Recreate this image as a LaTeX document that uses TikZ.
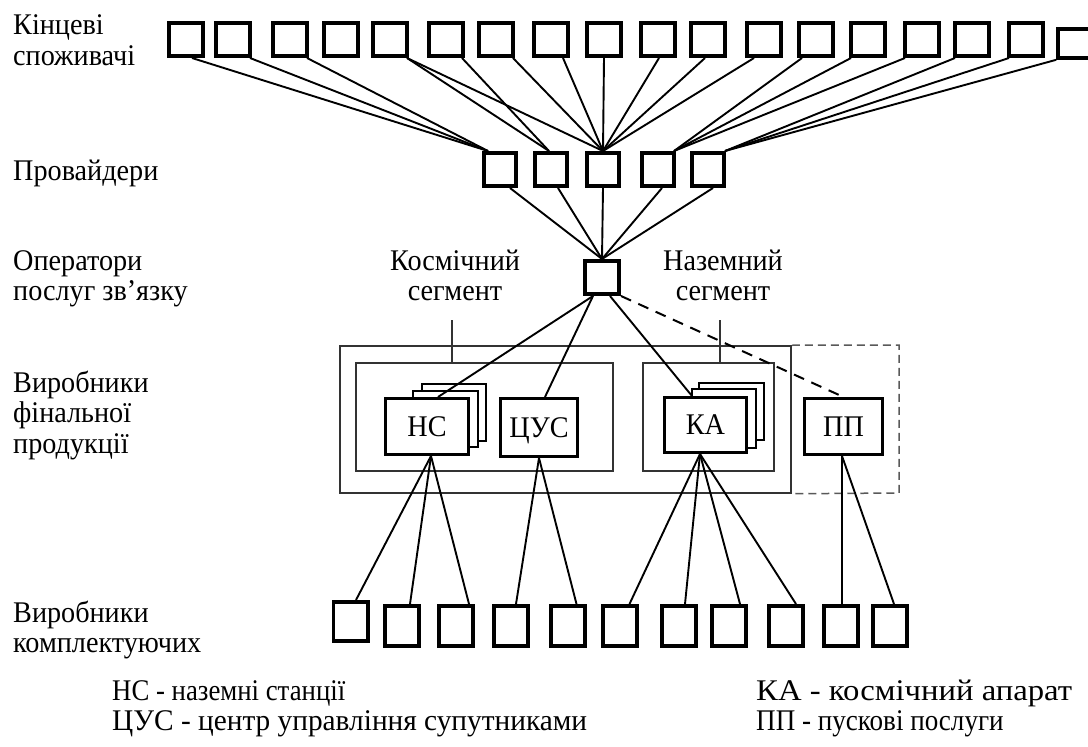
\documentclass[tikz,border=0pt]{standalone}
\usepackage{fontspec}
\usepackage{graphicx}
\setmainfont{Liberation Serif}[FakeStretch=0.94]
\usetikzlibrary{calc}
\newcommand\stackl[1]{\begin{tabular}[t]{@{}l@{}}#1\end{tabular}}
\newcommand\stackc[1]{\begin{tabular}[t]{@{}c@{}}#1\end{tabular}}
\begin{document}
\begin{tikzpicture}[x=1bp,y=-1bp,
  txt/.style={font=\fontsize{30bp}{30.5bp}\selectfont, inner sep=0pt},
  ubox/.style={draw, line width=3.6bp, minimum width=34.4bp, minimum height=33.4bp, inner sep=0pt},
  pbox/.style={ubox, minimum width=32.4bp},
  bbox/.style={ubox, minimum height=40.4bp},
  conn/.style={line width=1.9bp},
  unit/.style={draw, line width=2.6bp, fill=white, inner sep=0pt, txt, text height=19.5bp, text depth=0bp},
  sheet/.style={draw, line width=1.3bp, fill=white, inner sep=0pt},
  frame/.style={draw=black!80, line width=1.5bp, inner sep=0pt},
  dframe/.style={draw=black!65, line width=1.5bp, dash pattern=on 8bp off 5bp},
  dconn/.style={line width=2bp, dash pattern=on 11bp off 8bp},
]
\useasboundingbox (0,0) rectangle (1088,747);

% frames
\node[frame, minimum width=451bp, minimum height=147bp] (outer) at (565.5,419.5) {};
\node[frame, minimum width=257bp, minimum height=108bp] (segL) at (484.5,417) {};
\node[frame, minimum width=131bp, minimum height=108bp] (segR) at (708.5,417) {};
\coordinate (ppne) at (899,345);
\coordinate (ppse) at (899,493);
\draw[dframe] (outer.north east) -- (ppne) -- (ppse) -- (outer.south east);
\coordinate (kt) at (452,320);
\coordinate (nt) at (720,320);
\draw[frame] (kt) -- (kt |- segL.north);
\draw[frame] (nt) -- (nt |- segR.north);

% top row
\foreach \l [count=\i] in {167,214,271,322,371,427,477,532,585,639,689,745,797,849,903,953,1007}
  \node[ubox] (t\i) at (\l+19,39.5) {};
\node[ubox, minimum width=44bp, minimum height=29bp] (t18) at (1080,43.5) {};

% providers
\foreach \l [count=\i] in {482,533,585,640,690}
  \node[pbox] (p\i) at (\l+18,169.5) {};

% operator
\node[ubox] (op) at (602,277.5) {};

% sheets
\node[sheet, minimum width=64bp, minimum height=57bp] (nsB) at (454,412.5) {};
\node[sheet, minimum width=65bp, minimum height=56bp] (nsA) at (445.5,419) {};
\node[sheet, minimum width=65bp, minimum height=57bp] (kaB) at (731.5,411.5) {};
\node[sheet, minimum width=64bp, minimum height=59bp] (kaA) at (724,418.5) {};

% units
\node[unit, minimum width=83.4bp, minimum height=56.4bp] (ns) at (427,426.5) {НС};
\node[unit, minimum width=77.4bp, minimum height=58.4bp] (cus) at (539,427.5) {ЦУС};
\node[unit, minimum width=82.4bp, minimum height=55.4bp] (ka) at (705.5,425) {КА};
\node[unit, minimum width=78.4bp, minimum height=56.4bp] (pp) at (843.5,426.5) {ПП};

% bottom row
\node[bbox, minimum height=39.4bp] (b1) at (350.5,621.5) {};
\foreach \l [count=\i from 2] in {383,437,492,549,601,660,710,767,822,871}
  \node[bbox] (b\i) at (\l+19,626) {};

% connectors top -> providers
\foreach \a/\dx/\b/\ex in {1/6/1/-12, 2/17/1/-12, 3/17/1/-12, 5/17/2/-2, 5/17/3/0, 6/16/2/-2, 7/17/3/0, 8/12/3/0, 9/0/3/0, 10/1/3/0, 11/-3/3/0, 12/-10/3/0, 13/-14/4/16, 14/-17/4/16, 15/-17/4/16, 16/-17/5/17, 17/-17/5/17}
  \draw[conn] ([xshift=\dx bp]t\a.south) -- ([xshift=\ex bp]p\b.north);
\draw[conn] (t18.south west) -- ([xshift=17bp]p5.north);

% providers -> operator
\foreach \i/\dx in {1/10, 2/7, 3/0, 4/4, 5/5}
  \draw[conn] ([xshift=\dx bp]p\i.south) -- (op.north);

% operator -> units
\draw[conn] ([xshift=-9bp]op.south) -- ([xshift=11bp]ns.north);
\draw[conn] ([xshift=-9bp]op.south) -- ([xshift=6bp]cus.north);
\draw[conn] ([xshift=8bp]op.south) -- ([xshift=-13.5bp]ka.north);
\draw[dconn] (op.south east) -- (pp.north);

% units -> bottom row
\foreach \u/\ux/\b/\bx in {ns/4/1/5.5, ns/4/2/8, ns/4/3/13, cus/0/4/5, cus/0/5/8.5, ka/-5.5/6/9.5, ka/-5.5/7/6, ka/-5.5/8/11, ka/-5.5/9/10, pp/-1.5/10/1, pp/-1.5/11/4}
  \draw[conn] ([xshift=\ux bp]\u.south) -- ([xshift=\bx bp]b\b.north);

% labels
\node[txt, anchor=base west] (l1) at (13,35) {\stackl{Кінцеві\\споживачі}};
\node[txt, anchor=base west] (l2) at (13,180) {Провайдери};
\node[txt, anchor=base west] (l3) at (13,270) {\stackl{Оператори\\послуг зв’язку}};
\node[txt, anchor=base west] (l4) at (13,392) {\stackl{Виробники\\фінальної\\продукції}};
\node[txt, anchor=base west] (l5) at (13,622) {\stackl{Виробники\\комплектуючих}};
\node[txt, anchor=base] (ks) at (455,270) {\stackc{Космічний\\сегмент}};
\node[txt, anchor=base] (nz) at (723,270) {\stackc{Наземний\\сегмент}};
\node[txt, anchor=base west] (g1) at (112,700) {\stackl{\scalebox{0.95}[1]{НС - наземні станції}\\\scalebox{1.04}[1]{ЦУС - центр управління супутниками}}};
\node[txt, anchor=base west] (g2) at (756,700) {\stackl{\scalebox{1.16}[1]{КА - космічний апарат}\\\scalebox{0.96}[1]{ПП - пускові послуги}}};
\end{tikzpicture}
\end{document}
